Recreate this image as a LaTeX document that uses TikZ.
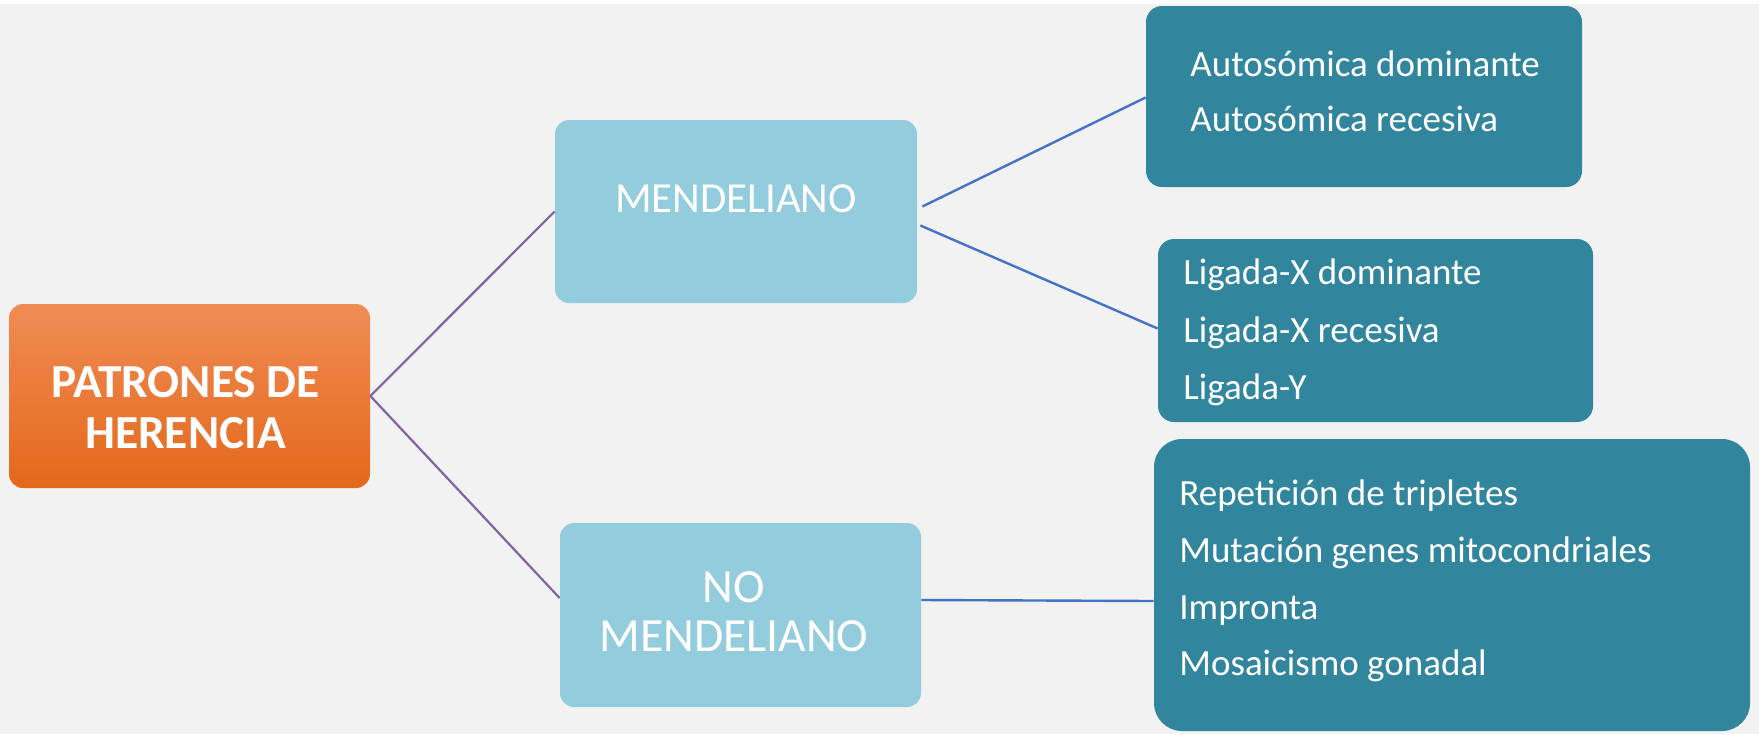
\documentclass[tikz,border=0pt]{standalone}
\usepackage{fontspec}
\setmainfont{Carlito}
\usetikzlibrary{calc}
\definecolor{canvas}{HTML}{F2F2F2}
\definecolor{skyfill}{HTML}{93CDDD}
\definecolor{tealfill}{HTML}{31859C}
\definecolor{orangetop}{HTML}{F08C55}
\definecolor{orangemid}{HTML}{F47B22}
\definecolor{orangebot}{HTML}{E4681A}
\definecolor{purpleline}{HTML}{8064A2}
\definecolor{blueline}{HTML}{4472C4}
\tikzset{
  rootbox/.style={rectangle, rounded corners=7pt, top color=orangetop, middle color=orangemid, bottom color=orangebot, draw=none},
  midbox/.style={rectangle, rounded corners=7pt, fill=skyfill, draw=none},
  leafbox/.style={rectangle, rounded corners=8pt, fill=tealfill, draw=none},
  roottext/.style={text=white, align=center, font=\fontsize{23.7}{25.5}\selectfont\bfseries},
  midtext/.style={text=white, align=center, font=\fontsize{21.4}{24.5}\selectfont},
  midtextlarge/.style={text=white, align=center, font=\fontsize{23.8}{24.7}\selectfont},
  item/.style={text=white, anchor=base west, inner sep=0pt, font=\fontsize{18.5}{22}\selectfont},
  trunk/.style={draw=purpleline, line width=1.1pt},
  branch/.style={draw=blueline, line width=1.2pt}
}
\begin{document}
\begin{tikzpicture}[x=0.5pt,y=-0.5pt]
  % canvas with thin white band on top
  \fill[white] (0,0) rectangle (1759,734);
  \fill[canvas] (0,4) rectangle (1759,734);
  \useasboundingbox (0,0) rectangle (1759,734);

  % boxes
  \node[rootbox, minimum width=180.5pt, minimum height=92pt] (root) at (189.5,396) {};
  \node[midbox, minimum width=181pt, minimum height=91.5pt] (mend) at (736,211.5) {};
  \node[midbox, minimum width=180.5pt, minimum height=92pt] (nomend) at (740.5,615) {};
  \node[leafbox, minimum width=218pt, minimum height=90.5pt] (auto) at (1364,96.5) {};
  \node[leafbox, minimum width=217.5pt, minimum height=91.5pt] (liga) at (1375.5,330.5) {};
  \node[leafbox, minimum width=298pt, minimum height=146pt, rounded corners=14pt] (nonm) at (1452,585) {};

  % connectors
  \draw[trunk] (root.east) -- (mend.west);
  \draw[trunk] (root.east) -- ([yshift=8.5pt]nomend.west);
  \draw[branch] ([xshift=2.5pt,yshift=2.5pt]mend.east) -- ([yshift=-0.5pt]auto.west);
  \draw[branch] ([xshift=1.5pt,yshift=-7pt]mend.east) -- ([yshift=1pt]liga.west);
  \draw[branch] ([yshift=7.5pt]nomend.east) -- ([yshift=-8pt]nonm.west);

  % labels
  \node[roottext] (roottxt) at (185.5,408) {PATRONES DE\\HERENCIA};
  \node[midtext] (mendtxt) at (736,198.6) {MENDELIANO};
  \node[midtextlarge] (nomendtxt) at (734,611.5) {NO\\MENDELIANO};

  \node[item] (a1) at (1190,76) {Autosómica dominante};
  \node[item] (a2) at (1190,131) {Autosómica recesiva};

  \node[item] (b1) at (1183,284) {Ligada-X dominante};
  \node[item] (b2) at (1183,342) {Ligada-X recesiva};
  \node[item] (b3) at (1183,399) {Ligada-Y};

  \node[item] (c1) at (1179,505) {Repetición de tripletes};
  \node[item] (c2) at (1179,562) {Mutación genes mitocondriales};
  \node[item] (c3) at (1179,619) {Impronta};
  \node[item] (c4) at (1179,675) {Mosaicismo gonadal};
\end{tikzpicture}
\end{document}
